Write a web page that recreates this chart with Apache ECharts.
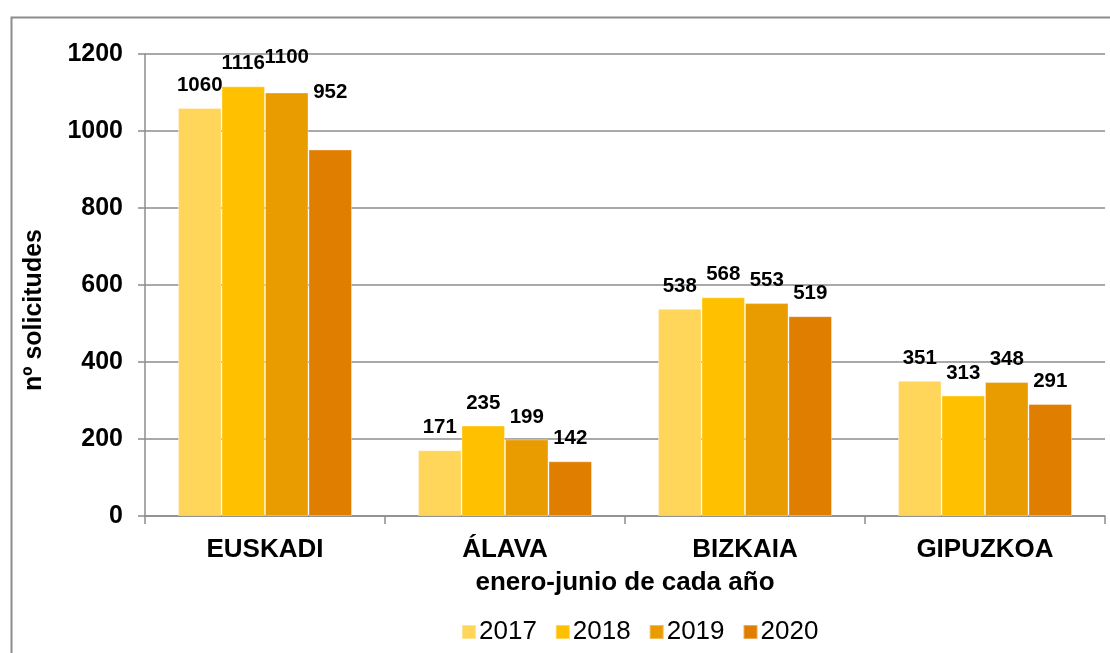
<!DOCTYPE html>
<html>
<head>
<meta charset="utf-8">
<script src="https://cdn.jsdelivr.net/npm/echarts@6/dist/echarts.min.js"></script>
<style>
html,body{margin:0;padding:0;background:#fff;}
#chart{width:1110px;height:653px;}
</style>
</head>
<body>
<div id="chart"></div>
<script>
const categories = ['EUSKADI', 'ÁLAVA', 'BIZKAIA', 'GIPUZKOA'];
const seriesNames = ['2017', '2018', '2019', '2020'];
const values2017 = [1060, 171, 538, 351];
const values2018 = [1116, 235, 568, 313];
const values2019 = [1100, 199, 553, 348];
const values2020 = [952, 142, 519, 291];
const yTicks = [0, 200, 400, 600, 800, 1000, 1200];
const colors = ['#FFD55A', '#FFC000', '#E89C00', '#E07E00'];
// label offsets (style only) for manually moved labels
const labelOffsets = {'2019-0': [0, -13], '2020-0': [0, -35]};

const FONT = "'Liberation Sans', Arial, sans-serif";
const allValues = [values2017, values2018, values2019, values2020];

const series = seriesNames.map((name, si) => ({
  name: name,
  type: 'bar',
  barGap: '0%',
  barCategoryGap: '27.5%',
  itemStyle: {color: colors[si], borderColor: 'rgba(255,255,255,0.35)', borderWidth: 1},
  label: {
    show: true, position: 'top', distance: 12,
    color: '#000', fontFamily: FONT, fontWeight: 'bold', fontSize: 20.5
  },
  data: allValues[si].map((v, ci) => {
    const off = labelOffsets[name + '-' + ci];
    return off ? {value: v, label: {offset: off}} : v;
  })
}));

const chart = echarts.init(document.getElementById('chart'), null, {renderer: 'canvas'});
chart.setOption({
  animation: false,
  backgroundColor: '#fff',
  graphic: [{
    type: 'rect', left: 9, top: 15, z: -1,
    shape: {width: 1120, height: 700},
    style: {fill: 'none', stroke: '#8c8c8c', lineWidth: 2}
  }],
  grid: {left: 145, right: 5, top: 54, bottom: 137, containLabel: false},
  legend: {
    bottom: 3, left: 456,
    data: seriesNames,
    icon: 'rect', itemWidth: 14, itemHeight: 14, itemGap: 18,
    textStyle: {fontFamily: FONT, fontSize: 26, color: '#000', padding: [0,0,0,-2]}
  },
  xAxis: {
    type: 'category',
    data: categories,
    name: 'enero-junio de cada año',
    nameLocation: 'middle', nameGap: 54,
    nameTextStyle: {fontFamily: FONT, fontWeight: 'bold', fontSize: 26, color: '#000', verticalAlign: 'top'},
    axisLine: {lineStyle: {color: '#8c8c8c', width: 1.5}},
    axisTick: {show: true, length: 8, alignWithLabel: false, lineStyle: {color: '#8c8c8c', width: 1.5}},
    axisLabel: {fontFamily: FONT, fontWeight: 'bold', fontSize: 26, color: '#000', margin: 21}
  },
  yAxis: {
    type: 'value',
    min: yTicks[0], max: yTicks[yTicks.length - 1], interval: yTicks[1] - yTicks[0],
    name: 'nº solicitudes',
    nameLocation: 'middle', nameGap: 98, nameRotate: 90,
    nameTextStyle: {fontFamily: FONT, fontWeight: 'bold', fontSize: 25, color: '#000', padding: [0, 50, 0, 0]},
    axisLine: {show: true, lineStyle: {color: '#8c8c8c', width: 1.5}},
    axisTick: {show: true, length: 7, lineStyle: {color: '#8c8c8c', width: 1.5}},
    splitLine: {lineStyle: {color: '#8c8c8c', width: 1.5}},
    axisLabel: {fontFamily: FONT, fontWeight: 'bold', fontSize: 25, color: '#000', margin: 22,
      formatter: v => String(v)}
  },
  series: series
});
</script>
</body>
</html>
